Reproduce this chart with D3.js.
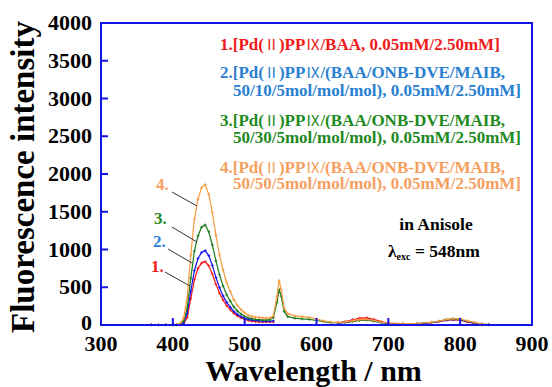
<!DOCTYPE html>
<html>
<head>
<meta charset="utf-8">
<script src="https://cdn.jsdelivr.net/npm/d3@7"></script>
<style>
  html, body { margin: 0; padding: 0; background: #fff; }
  svg text { font-family: "Liberation Serif", "Times New Roman", serif; font-weight: bold; }
  .cjk { font-family: "Noto Sans CJK JP", sans-serif; font-weight: normal; }
</style>
</head>
<body>
<svg id="chart" width="552" height="387"></svg>
<script>
// wavelength grid (nm)
var wavelengths = [370,380,390,400,405,410,415,420,425,430,435,440,445,450,455,460,465,470,475,480,485,490,495,500,505,510,515,520,525,530,535,540,545,548,551,555,560,570,580,590,600,610,620,630,640,650,660,670,680,690,700,720,740,760,770,780,790,800,810,820,830,840];

// intensities, one per wavelength (null = no data)
var series1 = [5,5,5,5,5,5,15,100,350,600,750,820,840,785,675,540,420,330,255,200,155,120,95,75,60,50,45,40,40,40,40,40,null,null,null,null,null,null,null,null,null,null,null,30,45,70,90,95,75,45,25,15,15,30,45,60,70,65,40,20,10,5];
var series2 = [5,5,5,5,5,5,25,150,450,720,880,960,985,920,790,630,495,385,300,235,180,140,110,90,75,65,60,55,50,50,50,55,null,null,null,null,null,null,null,null,null,null,null,25,35,50,65,70,55,35,20,15,15,30,45,65,75,70,45,25,10,5];
var series3 = [5,5,5,5,5,10,50,220,620,980,1180,1295,1325,1235,1060,850,665,515,400,315,240,185,145,115,95,85,75,70,65,65,70,100,300,470,380,180,110,90,80,75,60,45,30,30,35,45,60,65,50,35,20,15,20,35,50,70,80,75,50,30,12,5];
var series4 = [5,5,5,5,8,20,90,370,930,1400,1670,1820,1860,1730,1490,1190,930,725,560,445,335,260,205,160,130,115,105,100,95,90,95,120,380,590,470,220,150,120,110,100,80,55,40,35,40,55,70,75,60,40,25,20,20,35,50,70,85,80,55,35,15,5];

var seriesNames = ["1.", "2.", "3.", "4."];
var lineColors = ["#ff1a1a", "#1010ee", "#1a7a1a", "#f79a3c"];
var textColors = ["#f01a1a", "#2a80d0", "#1f8a1f", "#f5a060"];

// legend text; "|" marks where the roman numerals go
var legendLines = [
  ["1.[Pd(|Ⅱ|)PP|Ⅸ|/BAA, 0.05mM/2.50mM]"],
  ["2.[Pd(|Ⅱ|)PP|Ⅸ|/(BAA/ONB-DVE/MAIB,", "50/10/5mol/mol/mol), 0.05mM/2.50mM]"],
  ["3.[Pd(|Ⅱ|)PP|Ⅸ|/(BAA/ONB-DVE/MAIB,", "50/30/5mol/mol/mol), 0.05mM/2.50mM]"],
  ["4.[Pd(|Ⅱ|)PP|Ⅸ|/(BAA/ONB-DVE/MAIB,", "50/50/5mol/mol/mol), 0.05mM/2.50mM]"]
];

var xTicks = [300, 400, 500, 600, 700, 800, 900];
var yTicks = [0, 500, 1000, 1500, 2000, 2500, 3000, 3500, 4000];

var svg = d3.select("#chart");
var margin = { left: 101, right: 20, top: 23, bottom: 62 };
var width = 552 - margin.left - margin.right,
  height = 387 - margin.top - margin.bottom;

var x = d3.scaleLinear().domain([300, 900]).range([margin.left, margin.left + width]);
var y = d3.scaleLinear().domain([0, 4000]).range([margin.top + height, margin.top]);

var blue = "#1414e6";

// spectra
var allSeries = [series1, series2, series3, series4];
var line = d3.line()
  .defined(function (d) { return d[1] != null; })
  .x(function (d) { return x(d[0]); })
  .y(function (d) { return y(d[1]); });

allSeries.forEach(function (vals, i) {
  var pts = wavelengths.map(function (w, j) { return [w, vals[j]]; });
  svg.append("path")
    .attr("d", line(pts))
    .attr("fill", "none")
    .attr("stroke", lineColors[i])
    .attr("stroke-width", 1.2);
  // small cross markers
  svg.append("g").selectAll("path")
    .data(pts.filter(function (d) { return d[1] != null; }))
    .join("path")
    .attr("d", function (d) {
      var px = x(d[0]), py = y(d[1]);
      return "M" + (px - 1.5) + "," + py + "H" + (px + 1.5) + "M" + px + "," + (py - 1.5) + "V" + (py + 1.5);
    })
    .attr("stroke", lineColors[i])
    .attr("stroke-width", 0.8);
});

// frame
svg.append("rect")
  .attr("x", margin.left).attr("y", margin.top)
  .attr("width", width).attr("height", height)
  .attr("fill", "none").attr("stroke", blue).attr("stroke-width", 2);

// inward ticks
svg.append("g").selectAll("line")
  .data(xTicks.slice(1, -1))
  .join("line")
  .attr("x1", function (d) { return x(d); }).attr("x2", function (d) { return x(d); })
  .attr("y1", y(0)).attr("y2", y(0) - 7)
  .attr("stroke", blue).attr("stroke-width", 2);

svg.append("g").selectAll("line")
  .data(yTicks.slice(1, -1))
  .join("line")
  .attr("x1", x(300)).attr("x2", x(300) + 7)
  .attr("y1", function (d) { return y(d); }).attr("y2", function (d) { return y(d); })
  .attr("stroke", blue).attr("stroke-width", 2);

// tick labels
svg.append("g").selectAll("text")
  .data(xTicks)
  .join("text")
  .attr("x", function (d) { return x(d); })
  .attr("y", 351)
  .attr("text-anchor", "middle")
  .attr("font-size", 22)
  .text(function (d) { return d; });

svg.append("g").selectAll("text")
  .data(yTicks)
  .join("text")
  .attr("x", 92)
  .attr("y", function (d) { return y(d) + (d === 0 ? 5 : 7); })
  .attr("text-anchor", "end")
  .attr("font-size", 22)
  .text(function (d) { return d; });

// axis titles
svg.append("text")
  .attr("x", x(600) - 3).attr("y", 381)
  .attr("text-anchor", "middle")
  .attr("font-size", 30)
  .text("Wavelength / nm");

svg.append("text")
  .attr("transform", "translate(34,177) rotate(-90)")
  .attr("text-anchor", "middle")
  .attr("font-size", 33)
  .text("Fluorescence intensity");

// legend
var legendRows = [[50], [78, 96], [126, 143], [173, 189]];
legendLines.forEach(function (rows, i) {
  rows.forEach(function (t, k) {
    var tx = svg.append("text")
      .attr("x", k === 0 ? 220 : 233)
      .attr("y", legendRows[i][k])
      .attr("font-size", 17)
      .attr("fill", textColors[i]);
    t.split("|").forEach(function (part, m) {
      var sp = tx.append("tspan").text(part);
      if (m % 2 === 1) sp.attr("class", "cjk").attr("font-size", 15);
    });
  });
});

// curve labels with leader lines
var labelPos = [[151, 272, 165, 272, 190, 286], [153, 247, 168, 249, 192, 263], [154, 224, 172, 227, 197, 242], [156, 190, 172, 192, 197, 206]];
labelPos.forEach(function (p, i) {
  svg.append("text")
    .attr("x", p[0]).attr("y", p[1])
    .attr("font-size", 17)
    .attr("fill", textColors[i])
    .text(seriesNames[i]);
  svg.append("line")
    .attr("x1", p[2]).attr("y1", p[3]).attr("x2", p[4]).attr("y2", p[5])
    .attr("stroke", "#333").attr("stroke-width", 1);
});

// annotation
svg.append("text")
  .attr("x", 436).attr("y", 230)
  .attr("text-anchor", "middle")
  .attr("font-size", 17.5)
  .text("in Anisole");

var ann = svg.append("text")
  .attr("x", 388).attr("y", 257)
  .attr("font-size", 17.5);
ann.append("tspan").text("λ");
ann.append("tspan").attr("font-size", 10).attr("dy", 3).text("exc");
ann.append("tspan").attr("dy", -3).text(" = 548nm");
</script>
</body>
</html>
